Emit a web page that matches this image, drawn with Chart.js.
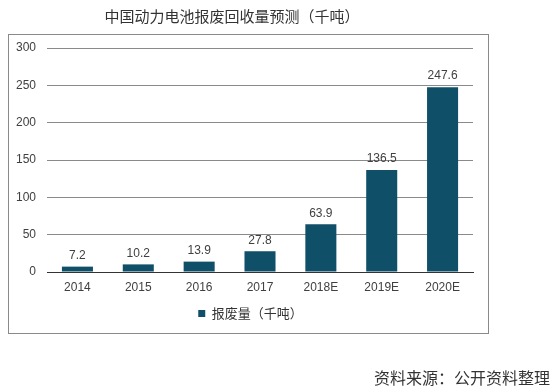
<!DOCTYPE html>
<html>
<head>
<meta charset="utf-8">
<script src="https://cdn.jsdelivr.net/npm/chart.js@4.4.0/dist/chart.umd.min.js"></script>
<style>
  html, body { margin: 0; padding: 0; background: #fff; }
  #wrap { position: relative; width: 552px; height: 392px; }
</style>
</head>
<body>
<div id="wrap"><canvas id="areaChart" width="552" height="392"></canvas></div>
<script>
  // data
  var years = ["2014", "2015", "2016", "2017", "2018E", "2019E", "2020E"];
  var scrapValues = [7.2, 10.2, 13.9, 27.8, 63.9, 136.5, 247.6];
  var seriesName = "报废量（千吨）";
  var chartTitle = "中国动力电池报废回收量预测（千吨）";
  var sourceNote = "资料来源：公开资料整理";

  var fontFam = "'Liberation Sans', Arial, 'Noto Sans CJK SC', sans-serif";

  // frame, title, source text and value labels
  var decorPlugin = {
    id: "decor",
    afterLayout: function(chart) {
      // legend sits a bit right of the default centre
      if (chart.legend) {
        chart.legend.left += 10;
        chart.legend.right += 10;
      }
    },
    beforeDraw: function(chart) {
      var ctx = chart.ctx;
      ctx.save();
      ctx.strokeStyle = "#8a8a8a";
      ctx.lineWidth = 1;
      ctx.strokeRect(8.5, 34.5, 480, 299);
      ctx.fillStyle = "#333";
      ctx.font = "15px 'Noto Sans CJK SC', sans-serif";
      ctx.textAlign = "center";
      ctx.textBaseline = "middle";
      ctx.fillText(chartTitle, 232, 16);
      ctx.font = "16px 'Noto Sans CJK SC', sans-serif";
      ctx.textAlign = "right";
      ctx.fillText(sourceNote, 550, 378);
      ctx.restore();
    },
    afterDatasetsDraw: function(chart) {
      var ctx = chart.ctx;
      var meta = chart.getDatasetMeta(0);
      ctx.save();
      ctx.fillStyle = "#404040";
      ctx.font = "12px " + fontFam;
      ctx.textAlign = "center";
      ctx.textBaseline = "bottom";
      meta.data.forEach(function(bar, i) {
        ctx.fillText(scrapValues[i].toFixed(1), bar.x, bar.y - 5);
      });
      ctx.restore();
    }
  };

  var ctx = document.getElementById("areaChart").getContext("2d");
  new Chart(ctx, {
    type: "bar",
    data: {
      labels: years,
      datasets: [{
        label: seriesName,
        data: scrapValues,
        backgroundColor: "#0f5068",
        borderWidth: 0,
        barPercentage: 0.51,
        categoryPercentage: 1
      }]
    },
    options: {
      responsive: false,
      animation: false,
      layout: { padding: { left: 8, right: 79, top: 48, bottom: 62 } },
      scales: {
        x: {
          grid: { display: false, drawTicks: false },
          border: { color: "#333", width: 1 },
          ticks: { color: "#404040", font: { size: 12, family: fontFam }, padding: 8 },
          afterFit: function(scale) { scale.height = 25; }
        },
        y: {
          min: 0,
          max: 300,
          grid: { color: "#8a8a8a", drawTicks: false },
          border: { display: false },
          ticks: { stepSize: 50, color: "#404040", font: { size: 12, family: fontFam }, padding: 11 },
          afterFit: function(scale) { scale.width = 39; }
        }
      },
      plugins: {
        title: { display: false },
        tooltip: { enabled: false },
        legend: {
          position: "bottom",
          labels: {
            boxWidth: 7,
            boxHeight: 7,
            padding: 10,
            color: "#333",
            font: { size: 13, family: "'Noto Sans CJK SC', sans-serif" }
          }
        }
      }
    },
    plugins: [decorPlugin]
  });
</script>
</body>
</html>
